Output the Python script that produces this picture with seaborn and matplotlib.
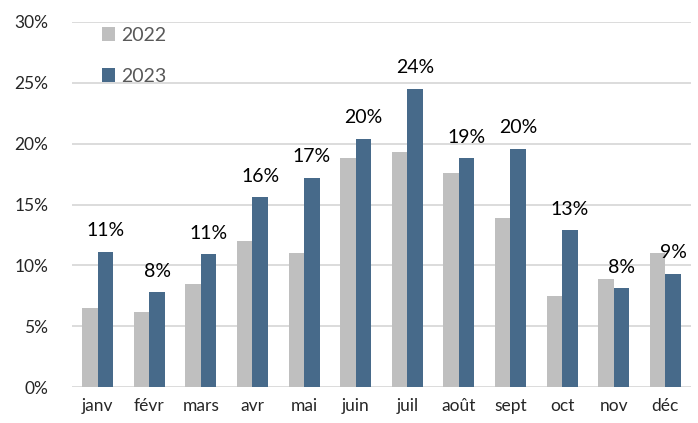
import matplotlib
matplotlib.use("Agg")
import matplotlib.pyplot as plt
import seaborn as sns
import pandas as pd

# monthly share (%)
months = ["janv", "févr", "mars", "avr", "mai", "juin",
          "juil", "août", "sept", "oct", "nov", "déc"]
share_2022 = [6.5, 6.2, 8.5, 12.0, 11.0, 18.8, 19.3, 17.6, 13.9, 7.5, 8.9, 11.0]
share_2023 = [11.1, 7.8, 10.9, 15.6, 17.2, 20.4, 24.5, 18.8, 19.6, 12.9, 8.1, 9.3]
labels_2023 = ["11%", "8%", "11%", "16%", "17%", "20%",
               "24%", "19%", "20%", "13%", "8%", "9%"]

df = pd.DataFrame({
    "mois": months * 2,
    "part": share_2022 + share_2023,
    "annee": ["2022"] * 12 + ["2023"] * 12,
})

sns.set_style("white")
plt.rcParams["font.family"] = ["Lato", "DejaVu Sans"]

fig = plt.figure(figsize=(6.98, 4.23), dpi=100)
ax = fig.add_axes([0.103, 0.085, 0.887, 0.863])

sns.barplot(data=df, x="mois", y="part", hue="annee", order=months,
            palette={"2022": "#BFBFBF", "2023": "#476A8A"},
            width=0.6, saturation=1, linewidth=0, ax=ax)

ax.bar_label(ax.containers[1], labels=labels_2023, padding=9,
             fontsize=14, color="#000000")

ax.set_ylim(0, 30)
ax.set_xlim(-0.5, 11.5)
ax.set_yticks(range(0, 31, 5))
ax.set_yticklabels([f"{t}%" for t in range(0, 31, 5)])
ax.yaxis.grid(True, color="#D9D9D9", linewidth=1.3)
ax.set_axisbelow(True)
for s in ax.spines.values():
    s.set_visible(False)
ax.tick_params(axis="y", length=0, pad=17, labelsize=12.5, labelcolor="#262626")
ax.tick_params(axis="x", length=0, pad=8, labelsize=12.5, labelcolor="#262626")
ax.set_xlabel("")
ax.set_ylabel("")

leg = ax.legend(loc="upper left", bbox_to_anchor=(0.02, 1.035), frameon=False,
                fontsize=14, labelspacing=1.25, handlelength=0.7,
                handleheight=0.7, handletextpad=0.3)
for t in leg.get_texts():
    t.set_color("#595959")

fig.savefig("out.png", dpi=100)
